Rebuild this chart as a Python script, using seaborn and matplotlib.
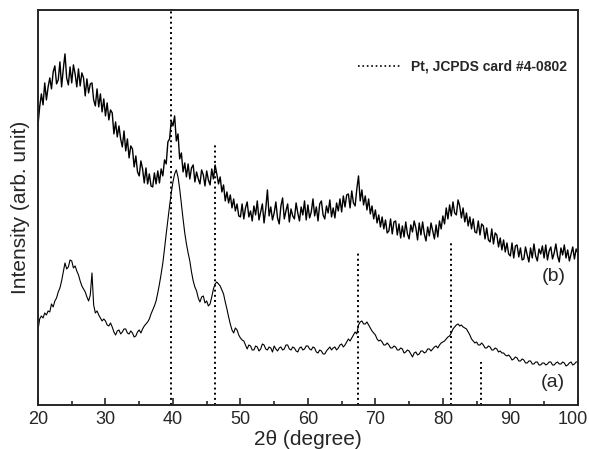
import numpy as np
import matplotlib
matplotlib.use("Agg")
import matplotlib.pyplot as plt
import matplotlib.transforms as mtransforms
import seaborn as sns
from matplotlib.lines import Line2D

# intensities (arb. unit), 2theta from 20 to 100 deg, 0.25 deg step
# sample (b)
intensity_b = [
    280, 298, 311, 300,  322, 305, 318, 327,  316, 333, 339, 321,  325, 343, 318, 336,
    351, 327, 320, 338,  322, 340, 331, 318,  336, 319, 332, 327,  309, 326, 312, 321,
    322, 305, 299, 316,  298, 311, 293, 306,  289, 302, 285, 295,  292, 271, 283, 268,
    279, 266, 258, 274,  254, 266, 247, 259,  256, 238, 249, 233,  229, 244, 236, 222,
    237, 221, 231, 219,  218, 232, 221, 234,  222, 236, 229, 245,  241, 263, 266, 284,
    279, 289, 264, 271,  246, 252, 233, 242,  228, 241, 226, 237,  240, 223, 233, 226,
    221, 235, 230, 219,  234, 225, 220, 236,  226, 240, 231, 221,  228, 213, 220, 204,
    213, 202, 210, 197,  206, 194, 201, 189,  188, 201, 186, 197,  203, 188, 194, 184,
    199, 190, 204, 185,  193, 201, 182, 196,  215, 189, 198, 185,  192, 203, 187, 181,
    199, 207, 186, 194,  201, 183, 196, 189,  186, 202, 192, 184,  198, 190, 204, 185,
    200, 187, 193, 206,  189, 198, 184, 201,  204, 190, 186, 199,  192, 205, 188, 197,
    187, 202, 194, 206,  193, 209, 198, 210,  211, 197, 214, 202,  199, 216, 229, 204,
    215, 200, 209, 195,  206, 191, 199, 186,  195, 182, 190, 178,  188, 176, 185, 172,
    174, 186, 171, 183,  184, 170, 181, 167,  179, 168, 183, 171,  166, 180, 173, 184,
    177, 165, 182, 170,  183, 171, 164, 178,  169, 182, 174, 166,  180, 168, 184, 176,
    189, 181, 197, 186,  200, 189, 203, 192,  190, 205, 199, 187,  197, 183, 192, 179,
    188, 176, 186, 173,  172, 184, 170, 181,  179, 166, 177, 165,  163, 176, 161, 172,
    170, 158, 167, 155,  165, 153, 162, 151,  149, 162, 147, 159,  160, 148, 157, 145,
    146, 158, 150, 143,  157, 147, 161, 149,  144, 156, 151, 159,  147, 160, 145, 154,
    158, 146, 152, 161,  149, 143, 157, 150,  160, 147, 155, 144,  151, 158, 146, 156,
    152,
]

# sample (a)
intensity_a = [
    75, 86, 89, 87,  92, 90, 94, 93,  101, 98, 104, 107,  113, 117, 124, 133,
    142, 136, 138, 145,  144, 137, 139, 134,  130, 124, 119, 116,  113, 108, 104, 110,
    132, 100, 92, 94,  90, 87, 84, 86,  84, 80, 79, 82,  78, 73, 70, 74,
    75, 71, 73, 76,  76, 72, 71, 74,  72, 68, 69, 73,  75, 72, 76, 79,
    81, 83, 86, 91,  95, 99, 104, 112,  121, 131, 142, 156,  171, 185, 199, 212,
    223, 231, 235, 228,  216, 201, 186, 172,  161, 152, 144, 133,  124, 118, 114, 107,
    103, 108, 109, 102,  104, 99, 101, 108,  116, 121, 123, 121,  119, 115, 111, 103,
    96, 88, 81, 75,  72, 77, 75, 70,  67, 65, 64, 60,  56, 60, 59, 55,
    55, 59, 58, 54,  56, 61, 60, 56,  55, 58, 57, 53,  59, 56, 54, 57,
    58, 55, 56, 60,  60, 56, 55, 58,  57, 54, 53, 57,  58, 55, 56, 59,
    59, 56, 55, 58,  57, 53, 52, 55,  54, 51, 51, 54,  56, 58, 55, 57,
    58, 55, 57, 60,  61, 58, 60, 63,  66, 64, 67, 70,  73, 71, 80, 83,
    84, 81, 81, 83,  80, 77, 74, 72,  70, 66, 64, 65,  63, 60, 60, 62,
    60, 57, 57, 59,  58, 55, 55, 57,  56, 52, 53, 55,  54, 51, 48, 52,
    53, 50, 51, 54,  54, 52, 53, 56,  56, 54, 56, 58,  59, 57, 60, 62,
    63, 64, 66, 68,  69, 72, 76, 78,  80, 81, 79, 80,  78, 77, 76, 73,
    70, 66, 64, 62,  63, 60, 60, 62,  60, 57, 57, 59,  58, 55, 55, 57,
    56, 53, 54, 52,  52, 50, 49, 50,  48, 45, 46, 48,  47, 44, 44, 46,
    45, 42, 42, 44,  44, 41, 41, 43,  43, 40, 40, 42,  42, 40, 41, 43,
    43, 40, 40, 42,  43, 41, 41, 43,  42, 39, 40, 42,  43, 40, 41, 43,
    43,
]

two_theta_b = np.linspace(20, 100, len(intensity_b))
two_theta_a = np.linspace(20, 100, len(intensity_a))

# Pt reference lines (JCPDS #4-0802) and their drawn heights
pt_positions = [39.76, 46.24, 67.45, 81.25, 85.71]
pt_heights = [395, 262, 153, 163, 43]

sns.set_style("ticks")
plt.rcParams['font.family'] = ['Liberation Sans', 'DejaVu Sans']

fig = plt.figure(figsize=(5.89, 4.49), dpi=100)
ax = fig.add_axes([0.0645, 0.098, 0.9165, 0.88])

sns.lineplot(x=two_theta_b, y=intensity_b, ax=ax, color='k', lw=1.0, estimator=None)
sns.lineplot(x=two_theta_a, y=intensity_a, ax=ax, color='k', lw=0.8, estimator=None)

ax.vlines(pt_positions, 0, pt_heights, colors='k', linestyles=':', lw=1.4)

ax.text(96.4, 128, '(b)', fontsize=14, ha='center', va='center')
ax.text(96.3, 22, '(a)', fontsize=14, ha='center', va='center')

handle = Line2D([0], [0], color='k', ls=':', lw=1.2)
ax.legend([handle], ['Pt, JCPDS card #4-0802'], loc='upper right',
          bbox_to_anchor=(1.003, 0.906), frameon=False,
          prop={'weight': 'bold', 'size': 10}, handlelength=3.1,
          handletextpad=0.7)

ax.set_xlim(20, 100)
ax.set_ylim(0, 395)
ax.set_xticks(np.arange(20, 101, 10))
ax.set_xticks(np.arange(25, 100, 10), minor=True)
ax.set_yticks([])
ax.tick_params(axis='x', which='major', direction='in', length=5, width=1.2,
               labelsize=13, pad=4)
ax.tick_params(axis='x', which='minor', direction='in', length=3, width=1.2)
for s in ax.spines.values():
    s.set_linewidth(1.4)

# keep "100" inside the picture
last = ax.get_xticklabels()[-1]
last.set_transform(last.get_transform() +
                   mtransforms.ScaledTranslation(-4 / 72, 0, fig.dpi_scale_trans))

ax.set_xlabel('2θ (degree)', fontsize=15, labelpad=2)
ax.set_ylabel('Intensity (arb. unit)', fontsize=15, labelpad=6)

fig.savefig('out.png', dpi=100)
